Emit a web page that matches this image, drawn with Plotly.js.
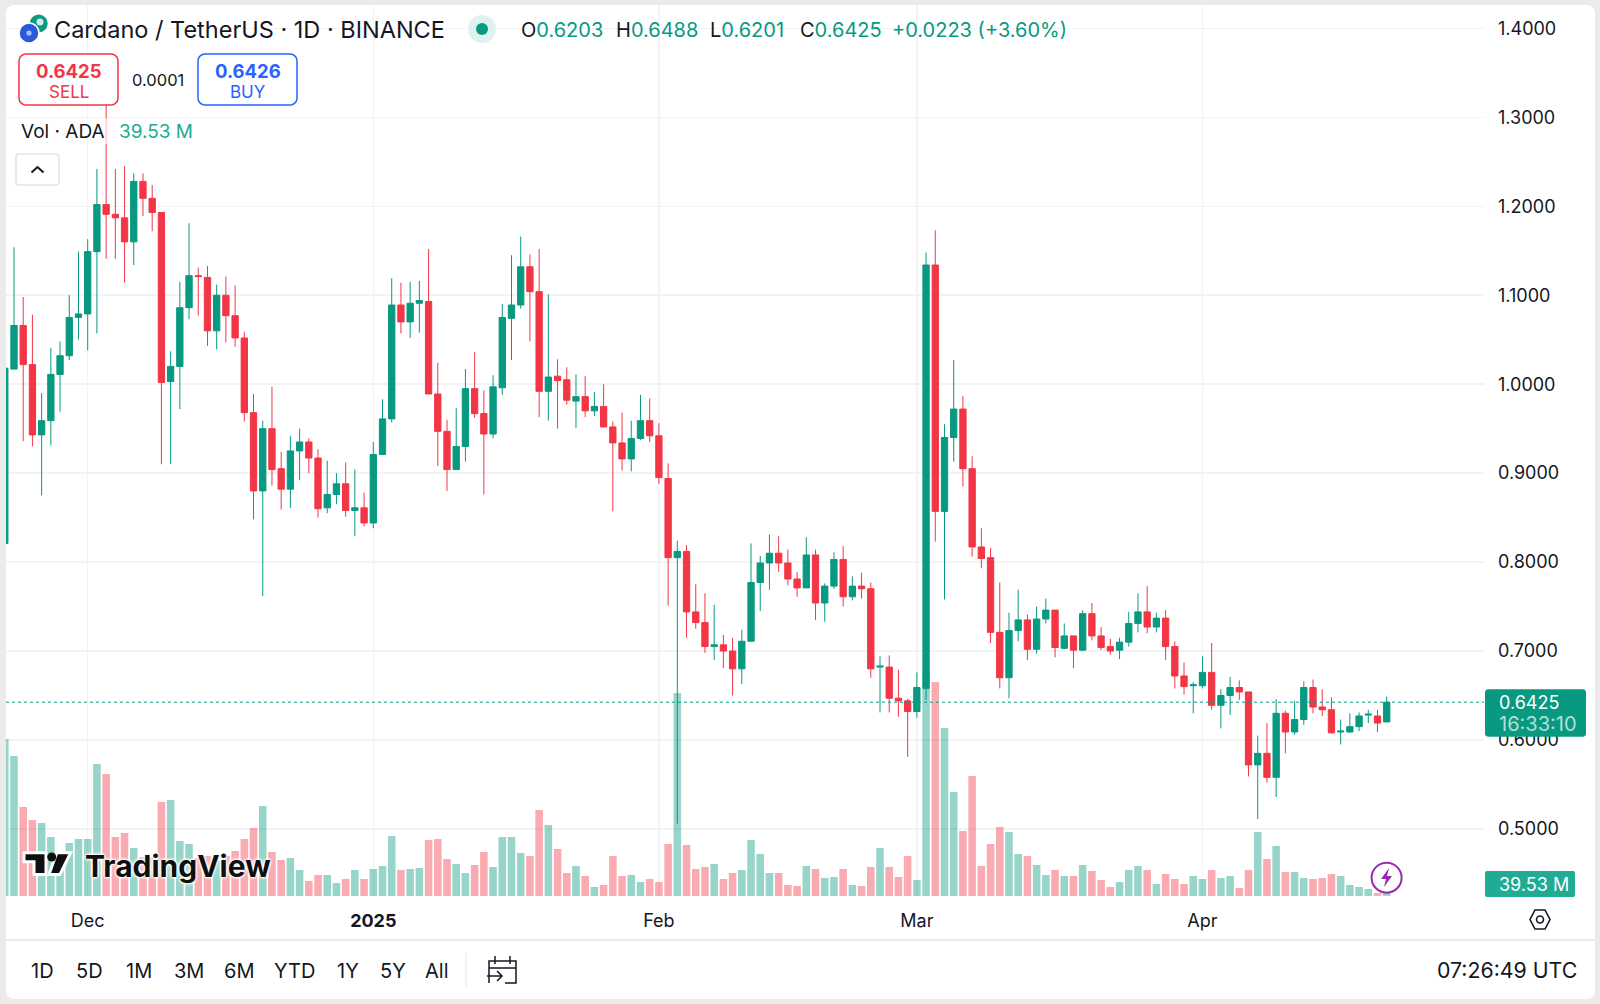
<!DOCTYPE html>
<html><head><meta charset="utf-8">
<script src="https://cdn.plot.ly/plotly-3.0.1.min.js"></script>
<style>html,body{margin:0;padding:0;background:#ebebeb}#c{width:1600px;height:1004px}</style></head>
<body><div id="c"></div>
<script>
const dates=["2024-11-22","2024-11-23","2024-11-24","2024-11-25","2024-11-26","2024-11-27","2024-11-28","2024-11-29","2024-11-30",
"2024-12-01","2024-12-02","2024-12-03","2024-12-04","2024-12-05","2024-12-06","2024-12-07","2024-12-08","2024-12-09","2024-12-10","2024-12-11","2024-12-12","2024-12-13","2024-12-14","2024-12-15","2024-12-16","2024-12-17","2024-12-18","2024-12-19","2024-12-20","2024-12-21","2024-12-22","2024-12-23","2024-12-24","2024-12-25","2024-12-26","2024-12-27","2024-12-28","2024-12-29","2024-12-30","2024-12-31",
"2025-01-01","2025-01-02","2025-01-03","2025-01-04","2025-01-05","2025-01-06","2025-01-07","2025-01-08","2025-01-09","2025-01-10","2025-01-11","2025-01-12","2025-01-13","2025-01-14","2025-01-15","2025-01-16","2025-01-17","2025-01-18","2025-01-19","2025-01-20","2025-01-21","2025-01-22","2025-01-23","2025-01-24","2025-01-25","2025-01-26","2025-01-27","2025-01-28","2025-01-29","2025-01-30","2025-01-31",
"2025-02-01","2025-02-02","2025-02-03","2025-02-04","2025-02-05","2025-02-06","2025-02-07","2025-02-08","2025-02-09","2025-02-10","2025-02-11","2025-02-12","2025-02-13","2025-02-14","2025-02-15","2025-02-16","2025-02-17","2025-02-18","2025-02-19","2025-02-20","2025-02-21","2025-02-22","2025-02-23","2025-02-24","2025-02-25","2025-02-26","2025-02-27","2025-02-28",
"2025-03-01","2025-03-02","2025-03-03","2025-03-04","2025-03-05","2025-03-06","2025-03-07","2025-03-08","2025-03-09","2025-03-10","2025-03-11","2025-03-12","2025-03-13","2025-03-14","2025-03-15","2025-03-16","2025-03-17","2025-03-18","2025-03-19","2025-03-20","2025-03-21","2025-03-22","2025-03-23","2025-03-24","2025-03-25","2025-03-26","2025-03-27","2025-03-28","2025-03-29","2025-03-30","2025-03-31",
"2025-04-01","2025-04-02","2025-04-03","2025-04-04","2025-04-05","2025-04-06","2025-04-07","2025-04-08","2025-04-09","2025-04-10","2025-04-11","2025-04-12","2025-04-13","2025-04-14","2025-04-15","2025-04-16","2025-04-17","2025-04-18","2025-04-19","2025-04-20","2025-04-21"];
const openPrice=[.821,1.017,1.066,1.022,.943,.959,1.011,1.032,1.075,
1.079,1.149,1.202,1.191,1.187,1.160,1.228,1.209,1.193,1.003,1.020,1.086,1.122,1.120,1.060,1.100,1.077,1.052,.968,.880,.950,.905,.882,.925,.935,.917,.861,.876,.888,.858,.861,
.844,.921,.961,1.089,1.070,1.091,1.093,.989,.947,.904,.930,.995,.967,.944,.996,1.074,1.089,1.132,1.104,.992,1.009,1.005,.981,.986,.970,.975,.952,.934,.916,.939,.959,
.942,.894,.805,.812,.744,.732,.705,.707,.700,.680,.711,.777,.799,.810,.799,.781,.771,.808,.754,.773,.803,.761,.773,.770,.682,.682,.647,.644,
.632,.658,1.134,.857,.940,.972,.905,.817,.805,.721,.670,.723,.735,.702,.736,.746,.703,.717,.701,.742,.717,.705,.701,.710,.731,.744,.727,.737,.705,.672,.661,
.661,.676,.639,.650,.659,.654,.572,.585,.558,.630,.609,.623,.659,.637,.634,.609,.609,.615,.628,.627,.6203];
const highPrice=[1.018,1.154,1.098,1.078,.990,1.041,1.048,1.100,1.149,
1.163,1.242,1.326,1.242,1.245,1.237,1.237,1.224,1.193,1.037,1.115,1.181,1.131,1.133,1.112,1.121,1.111,1.059,.989,.959,.997,.924,.942,.950,.939,.927,.914,.900,.912,.904,.878,
.935,.983,1.119,1.114,1.115,1.116,1.152,1.024,.960,.973,1.017,1.036,.993,1.010,1.090,1.145,1.166,1.146,1.152,1.101,1.028,1.019,1.011,1.009,.991,1.000,.958,.968,.959,.988,.984,
.956,.911,.824,.819,.775,.765,.752,.718,.715,.724,.821,.807,.831,.829,.814,.789,.828,.814,.776,.811,.818,.784,.788,.777,.694,.695,.679,.646,
.676,1.148,1.173,.955,1.027,.987,.919,.838,.816,.777,.743,.769,.741,.750,.759,.746,.731,.717,.746,.754,.727,.714,.715,.744,.765,.773,.743,.746,.711,.687,.665,
.694,.709,.657,.671,.667,.654,.605,.619,.646,.633,.644,.666,.668,.657,.648,.623,.630,.631,.634,.634,.6488];
const lowPrice=[.821,1.017,.936,.930,.875,.931,.969,1.027,1.050,
1.038,1.057,1.141,1.141,1.114,1.134,1.189,1.172,.910,.910,.972,1.073,1.077,1.043,1.039,1.047,1.042,.958,.848,.762,.886,.859,.861,.892,.900,.850,.855,.865,.851,.829,.840,
.838,.921,.957,1.057,1.052,1.058,.989,.908,.880,.904,.913,.962,.876,.939,.988,1.027,1.085,1.048,.963,.959,.950,.977,.951,.963,.964,.951,.857,.903,.902,.937,.935,
.888,.751,.506,.715,.725,.698,.690,.681,.650,.663,.711,.745,.769,.789,.774,.761,.771,.735,.733,.770,.750,.757,.759,.670,.631,.631,.626,.581,
.625,.645,.823,.758,.913,.885,.806,.793,.709,.658,.647,.711,.690,.697,.731,.693,.702,.681,.700,.712,.701,.696,.691,.705,.721,.720,.721,.690,.658,.651,.630,
.658,.634,.613,.628,.645,.559,.511,.552,.536,.585,.606,.617,.630,.627,.607,.595,.608,.610,.619,.609,.6201];
const closePrice=[1.018,1.066,1.022,.943,.959,1.011,1.032,1.075,1.079,
1.149,1.202,1.191,1.187,1.160,1.228,1.209,1.193,1.002,1.020,1.086,1.122,1.121,1.060,1.100,1.077,1.052,.968,.880,.950,.904,.882,.925,.935,.917,.860,.876,.888,.858,.861,.844,
.921,.961,1.089,1.070,1.091,1.094,.989,.947,.904,.930,.995,.967,.944,.997,1.075,1.089,1.132,1.104,.992,1.008,1.004,.982,.986,.970,.975,.952,.934,.916,.939,.959,.942,
.895,.805,.812,.744,.732,.705,.707,.700,.680,.711,.777,.799,.810,.799,.781,.771,.808,.754,.773,.803,.761,.773,.770,.680,.683,.647,.644,.632,
.659,1.134,.857,.940,.972,.905,.817,.804,.721,.670,.723,.735,.702,.736,.746,.704,.717,.701,.742,.717,.704,.700,.710,.731,.744,.727,.737,.705,.672,.660,.662,
.676,.639,.650,.659,.654,.572,.585,.558,.630,.609,.623,.659,.637,.634,.608,.610,.615,.627,.629,.619,.6425];
const volumeM=[2355,2100,1335,1140,1095,885,645,795,855,
855,1980,1830,885,945,720,585,585,1410,1440,825,780,570,600,525,600,675,855,1020,1350,660,540,570,390,225,315,315,195,255,390,255,
405,450,900,390,405,420,840,855,555,480,345,465,660,435,885,885,645,600,1290,1065,705,345,450,300,135,165,600,300,315,210,255,
210,780,3045,765,405,435,480,255,345,390,840,630,345,345,165,150,450,405,270,285,405,165,150,435,720,435,285,600,
240,3375,3210,2520,1560,975,1800,450,780,1035,960,630,600,465,315,390,300,300,465,375,240,135,210,390,450,390,180,330,255,180,300,
255,390,270,300,120,390,960,555,750,360,360,270,255,270,330,300,165,135,105,45,39.53];
const priceTicks=[.5,.6,.7,.8,.9,1.0,1.1,1.2,1.3,1.4];
const monthTicks=["2024-12-01","2025-01-01","2025-02-01","2025-03-01","2025-04-01"];
const monthLabels=["Dec","<b>2025</b>","Feb","Mar","Apr"];
const rangeLabels=["1D","5D","1M","3M","6M","YTD","1Y","5Y","All"];
const rangeCenters=[42.5,89,139,188.6,239,294,348,393,437];

const UP="#089981",DOWN="#F23645",FONT="Inter, 'Noto Sans', sans-serif",INK="#131722";
const L=6,R=1484,T=5,B=896;
const X=p=>(p-L)/(R-L), Y=p=>(B-p)/(B-T);
const P=(pts,close)=>pts.map((q,i)=>(i?"L":"M")+X(q[0])+","+Y(q[1])).join(" ")+(close?" Z":"");
function rrect(x0,y0,x1,y1,r){const n=[],a=[[x1-r,y0+r,-90],[x1-r,y1-r,0],[x0+r,y1-r,90],[x0+r,y0+r,180]];
 for(const [cx,cy,s] of a)for(let k=0;k<=6;k++){const t=(s+k*15)*Math.PI/180;n.push([cx+r*Math.cos(t),cy+r*Math.sin(t)]);}return P(n,true);}
const circle=(cx,cy,r,fill,line,w)=>({type:"circle",xref:"paper",yref:"paper",x0:X(cx-r),x1:X(cx+r),y0:Y(cy-r),y1:Y(cy+r),fillcolor:fill,line:{color:line||fill,width:w||0},layer:"above"});
const path=(d,fill,line,w,layer)=>({type:"path",xref:"paper",yref:"paper",path:d,fillcolor:fill||"rgba(0,0,0,0)",line:{color:line||"rgba(0,0,0,0)",width:w||0},layer:layer||"above"});
const txt=(s,x,y,size,color,anchor,extra)=>Object.assign({text:s,xref:"paper",yref:"paper",x:X(x),y:Y(y),xanchor:anchor||"left",yanchor:"middle",showarrow:false,align:anchor||"left",font:{family:FONT,size:size,color:color||INK},borderpad:0},extra||{});

const volColors=closePrice.map((c,i)=>c>=openPrice[i]?"rgba(8,153,129,0.42)":"rgba(242,54,69,0.42)");
const last=closePrice.length-1;
const traces=[
 {type:"bar",x:dates,y:volumeM,yaxis:"y",xaxis:"x",width:0.82*864e5,marker:{color:volColors,line:{width:0}},hoverinfo:"skip"},
 {type:"candlestick",x:dates,open:openPrice,high:highPrice,low:lowPrice,close:closePrice,yaxis:"y2",xaxis:"x",whiskerwidth:0,
  increasing:{line:{color:UP,width:1},fillcolor:UP},decreasing:{line:{color:DOWN,width:1},fillcolor:DOWN},hoverinfo:"skip"}
];
const shapes=[
 path(rrect(6,5,1595,999,8),"#ffffff",null,0,"below"),
 {type:"line",xref:"paper",yref:"y2",x0:0,x1:1,y0:closePrice[last],y1:closePrice[last],line:{color:UP,width:1,dash:"dot"},layer:"above"},
 path(P([[6,940],[1595,940]]),null,"#e6e6e6",1.5),
 path(P([[466,953],[466,987]]),null,"#e0e3eb",1),
 // overlay behind volume legend
 path(P([[6,118],[215,118],[215,144],[6,144]],true),"rgba(255,255,255,0.6)"),
 // logo
 circle(38.7,23.5,9,"#0a9a82"),circle(40,22,3.5,"#d0eee8"),
 circle(29,33,10,"#2a5ada","#ffffff",1.5),circle(29,33,2.6,"#a8bef0"),
 // status
 circle(482,29,14,"#dff2ee"),circle(482,29,6,UP),
 // sell/buy
 path(rrect(19,54,118,105,7),"#ffffff",DOWN,1.5),
 path(rrect(198,54,297,105,7),"#ffffff","#2962FF",1.5),
 // collapse button
 path(rrect(16,154,59,185,3),"#ffffff","#e0e3eb",1.5),
 path(P([[31.5,172.5],[37.5,167],[43.5,172.5]]),null,INK,2),
 // TradingView glyph
 path(P([[24,852.7],[46,852.7],[46,874.5],[34,874.5],[34,861.7],[24,861.7]],true),"#0f0f0f","#ffffff",3),
 path(P([[49,874.5],[56.7,852.7],[70.7,852.7],[60,874.5]],true),"#0f0f0f","#ffffff",3),
 circle(51.7,857,4.5,"#0f0f0f"),
 // price labels
 path(rrect(1485,689.3,1586,736.7,3),UP),
 path(rrect(1485,871,1575,897,2),"#22ab94"),
 // bolt
 circle(1386.6,877.7,15,"#ffffff","#9c27b0",2),
 path(P([[1389,868],[1381,879],[1386,879],[1384,887],[1392,876],[1387,876]],true),"#9c27b0"),
 // settings
 path(P([[1535,910],[1545,910],[1550,919.5],[1545,929],[1535,929],[1530,919.5]],true),null,INK,1.6),
 {type:"circle",xref:"paper",yref:"paper",x0:X(1536.5),x1:X(1543.5),y0:Y(916),y1:Y(923),line:{color:INK,width:1.6},layer:"above"},
 // calendar
 path(P([[489,983],[489,961],[516,961],[516,983],[505,983]]),null,INK,1.5),
 path(P([[489,968],[516,968]]),null,INK,1.5),
 path(P([[495,956],[495,964]]),null,INK,1.5),path(P([[510,956],[510,964]]),null,INK,1.5),
 path(P([[487,976],[501,976]]),null,INK,1.5),path(P([[497,971],[502,976],[497,981]]),null,INK,1.5)
];
const G=t=>`<span style="color:${UP}">${t}</span>`;
const annotations=[
 txt("Cardano / TetherUS · 1D · BINANCE",53,29.5,23.5,INK),
 txt("O"+G("0.6203"),520,30,20,INK),txt("H"+G("0.6488"),615,30,20,INK),txt("L"+G("0.6201"),709,30,20,INK),txt("C"+G("0.6425"),799,30,20,INK),
 txt("+0.0223 (+3.60%)",890.5,30,20,UP),
 txt("<b>0.6425</b>",68.5,71,18.5,DOWN,"center"),txt("SELL",68.5,92,17,DOWN,"center"),
 txt("0.0001",158,80,16.5,INK,"center"),
 txt("<b>0.6426</b>",247.5,71,18.5,"#2962FF","center"),txt("BUY",247.5,92,17,"#2962FF","center"),
 txt("Vol · ADA",20,131,19,INK),txt("39.53 M",118,131,19,"#22ab94"),
 txt("<b>TradingView</b>",83.5,866,30,"#0f0f0f","left",{font:{family:FONT,size:30,color:"#0f0f0f",shadow:"0 0 2px #fff, 0 0 2px #fff, 0 0 3px #fff, 0 0 3px #fff, 0 0 4px #fff"}}),
 txt("0.6425",1497.5,702,18,"#ffffff"),txt("16:33:10",1497.5,724,20,"rgba(255,255,255,0.7)"),
 txt("39.53 M",1497.5,884,18,"#ffffff"),
 txt("07:26:49 UTC",1578,970,21.3,INK,"right")
].concat(rangeLabels.map((s,i)=>txt(s,rangeCenters[i],971,20,INK,"center")));

const layout={
 width:1600,height:1004,paper_bgcolor:"#ebebeb",plot_bgcolor:"rgba(0,0,0,0)",showlegend:false,dragmode:false,hovermode:false,
 margin:{l:L,r:1600-R,t:T,b:1004-B,pad:0},boxgap:0.1,boxgroupgap:0.24,
 font:{family:FONT,color:INK},
 xaxis:{type:"date",range:["2024-11-22 03:10","2025-05-01 13:26"],rangeslider:{visible:false},tickmode:"array",tickvals:monthTicks,ticktext:monthLabels,
  showgrid:true,gridcolor:"#f2f3f4",gridwidth:1.5,zeroline:false,showline:false,ticks:"",tickfont:{family:FONT,size:18,color:INK},ticklabelstandoff:12},
 yaxis:{range:[0,13365],visible:false,showgrid:false,zeroline:false,fixedrange:true},
 yaxis2:{range:[0.4246,1.4263],overlaying:"y",side:"right",tickmode:"array",tickvals:priceTicks,tickformat:".4f",showgrid:true,gridcolor:"#f2f3f4",gridwidth:1.5,zeroline:false,showline:false,ticks:"",
  tickfont:{family:FONT,size:18,color:INK},ticklabelstandoff:13},
 shapes,annotations
};
Plotly.newPlot("c",traces,layout,{staticPlot:true,displayModeBar:false});
</script></body></html>
